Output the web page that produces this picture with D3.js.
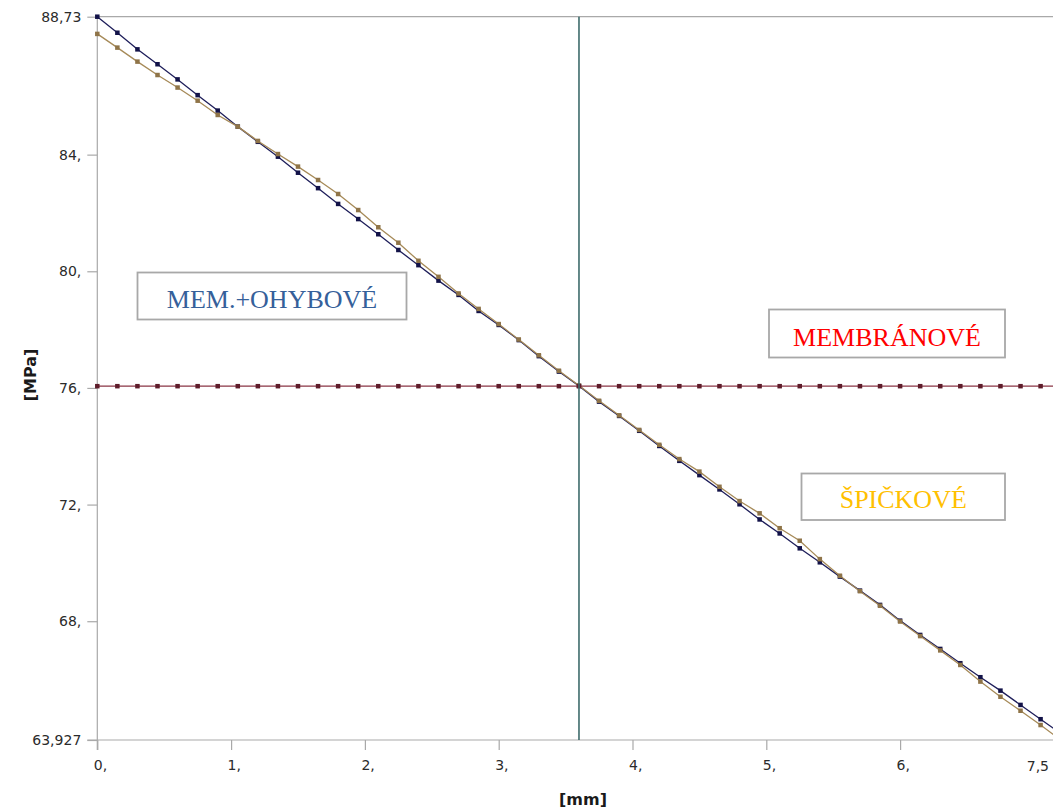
<!DOCTYPE html>
<html>
<head>
<meta charset="utf-8">
<script src="https://cdn.jsdelivr.net/npm/d3@7"></script>
<style>
  body { margin: 0; background: #fff; }
  svg { display: block; }
</style>
</head>
<body>
<script>
// path position [mm]
var xs = [0, 0.15, 0.3, 0.45, 0.6, 0.75, 0.9, 1.05, 1.2, 1.35,
          1.5, 1.65, 1.8, 1.95, 2.1, 2.25, 2.4, 2.55, 2.7, 2.85,
          3, 3.15, 3.3, 3.45, 3.6, 3.75, 3.9, 4.05, 4.2, 4.35,
          4.5, 4.65, 4.8, 4.95, 5.1, 5.25, 5.4, 5.55, 5.7, 5.85,
          6, 6.15, 6.3, 6.45, 6.6, 6.75, 6.9, 7.05, 7.2];

// membrane + bending [MPa]
var memBending = [88.73, 88.18, 87.61, 87.10, 86.58, 86.04, 85.51, 84.96, 84.44, 83.93,
                  83.38, 82.85, 82.31, 81.79, 81.27, 80.73, 80.21, 79.68, 79.19, 78.64,
                  78.16, 77.64, 77.09, 76.56, 76.07, 75.53, 75.04, 74.53, 74.01, 73.50,
                  73.01, 72.52, 72.01, 71.49, 71.01, 70.50, 70.02, 69.53, 69.05, 68.56,
                  68.02, 67.53, 67.05, 66.56, 66.08, 65.62, 65.13, 64.64, 64.15];

// peak [MPa]
var peak = [88.14, 87.67, 87.19, 86.73, 86.30, 85.85, 85.36, 84.96, 84.47, 84.02,
            83.59, 83.13, 82.65, 82.10, 81.51, 80.98, 80.36, 79.81, 79.24, 78.71,
            78.19, 77.66, 77.12, 76.59, 76.08, 75.56, 75.06, 74.56, 74.05, 73.56,
            73.13, 72.61, 72.12, 71.70, 71.19, 70.76, 70.13, 69.56, 69.03, 68.53,
            67.99, 67.49, 67.00, 66.50, 65.93, 65.41, 64.93, 64.44, 63.93];

// membrane [MPa]
var membrane = [76.06, 76.06, 76.06, 76.06, 76.06, 76.06, 76.06, 76.06, 76.06, 76.06,
                76.06, 76.06, 76.06, 76.06, 76.06, 76.06, 76.06, 76.06, 76.06, 76.06,
                76.06, 76.06, 76.06, 76.06, 76.06, 76.06, 76.06, 76.06, 76.06, 76.06,
                76.06, 76.06, 76.06, 76.06, 76.06, 76.06, 76.06, 76.06, 76.06, 76.06,
                76.06, 76.06, 76.06, 76.06, 76.06, 76.06, 76.06, 76.06, 76.06];

var cursorX = 3.6;

var xTicks = [0, 1, 2, 3, 4, 5, 6];
var xTickLabels = ["0,", "1,", "2,", "3,", "4,", "5,", "6,"];
var xEndLabel = "7,5";
var yTicks = [88.73, 84, 80, 76, 72, 68, 63.927];
var yTickLabels = ["88,73", "84,", "80,", "76,", "72,", "68,", "63,927"];

var width = 1053, height = 809;
var plot = {left: 97.3, top: 16.7, bottom: 740};
var tickFont = "'DejaVu Sans', Verdana, sans-serif";

var x = d3.scaleLinear()
    .domain([0, 7.5])
    .range([plot.left, plot.left + 7.5 * 133.8]);

var y = d3.scaleLinear()
    .domain([63.927, 88.73])
    .range([plot.bottom, plot.top]);

var svg = d3.select("body").append("svg")
    .attr("width", width)
    .attr("height", height)
    .style("font-family", tickFont);

var axisColor = "#a9a9a9";

// frame: left axis, top edge
svg.append("line")
    .attr("x1", plot.left).attr("x2", plot.left)
    .attr("y1", plot.top).attr("y2", plot.bottom + 10)
    .attr("stroke", axisColor).attr("stroke-width", 1.2);

svg.append("line")
    .attr("x1", plot.left).attr("x2", width)
    .attr("y1", plot.top).attr("y2", plot.top)
    .attr("stroke", axisColor).attr("stroke-width", 1.2);

// y axis
var yAxis = d3.axisLeft(y)
    .tickValues(yTicks)
    .tickSize(10)
    .tickPadding(6)
    .tickFormat(function(d, i) { return yTickLabels[i]; });

var gy = svg.append("g")
    .attr("transform", "translate(" + plot.left + ",0)")
    .call(yAxis);
gy.select(".domain").remove();
gy.selectAll(".tick line").attr("stroke", axisColor).attr("stroke-width", 1.2);
gy.selectAll(".tick text")
    .attr("fill", "#2b2b2b")
    .style("font-size", "14px")
    .style("font-family", tickFont);

// x axis
var xAxis = d3.axisBottom(x)
    .tickValues(xTicks)
    .tickSize(10)
    .tickPadding(10)
    .tickFormat(function(d, i) { return xTickLabels[i]; });

var gx = svg.append("g")
    .attr("transform", "translate(0," + plot.bottom + ")")
    .call(xAxis);
gx.select(".domain").remove();
gx.selectAll(".tick line").attr("stroke", axisColor).attr("stroke-width", 1.2);
gx.selectAll(".tick text")
    .attr("fill", "#2b2b2b")
    .attr("text-anchor", "start")
    .attr("x", -4)
    .style("font-size", "14px")
    .style("font-family", tickFont);

svg.append("line")
    .attr("x1", plot.left - 10).attr("x2", width)
    .attr("y1", plot.bottom).attr("y2", plot.bottom)
    .attr("stroke", axisColor).attr("stroke-width", 1.2);

svg.append("text")
    .attr("x", width - 4)
    .attr("y", plot.bottom + 31)
    .attr("text-anchor", "end")
    .attr("fill", "#2b2b2b")
    .style("font-size", "14px")
    .text(xEndLabel);

// axis titles
svg.append("text")
    .attr("transform", "translate(36,375) rotate(-90)")
    .attr("text-anchor", "middle")
    .attr("fill", "#1a1a1a")
    .style("font-size", "16px")
    .style("font-weight", "bold")
    .text("[MPa]");

svg.append("text")
    .attr("x", 583)
    .attr("y", 805)
    .attr("text-anchor", "middle")
    .attr("fill", "#1a1a1a")
    .style("font-size", "16px")
    .style("font-weight", "bold")
    .text("[mm]");

// series
var series = [
  {name: "memBending", values: memBending, line: "#1e1e5a", marker: "#121248"},
  {name: "peak", values: peak, line: "#a68a58", marker: "#8f7448"},
  {name: "membrane", values: membrane, line: "#8a3545", marker: "#5e1c2a"}
];

var line = d3.line()
    .x(function(d) { return x(d[0]); })
    .y(function(d) { return y(d[1]); });

series.forEach(function(s) {
  var pts = xs.map(function(v, i) { return [v, s.values[i]]; });

  svg.append("path")
      .datum(pts)
      .attr("fill", "none")
      .attr("stroke", s.line)
      .attr("stroke-width", 1.3)
      .attr("d", line);

  svg.append("g").selectAll("rect")
      .data(pts)
    .enter().append("rect")
      .attr("x", function(d) { return x(d[0]) - 2.25; })
      .attr("y", function(d) { return y(d[1]) - 2.25; })
      .attr("width", 4.5)
      .attr("height", 4.5)
      .attr("fill", s.marker);
});

// probe line at the crossing
svg.append("line")
    .attr("x1", x(cursorX)).attr("x2", x(cursorX))
    .attr("y1", plot.top).attr("y2", plot.bottom)
    .attr("stroke", "#3d6b6b")
    .attr("stroke-width", 1.6);

// annotation boxes
var notes = [
  {text: "MEM.+OHYBOVÉ", color: "#35609a", x: 137.5, y: 272.5, w: 269, h: 47},
  {text: "MEMBRÁNOVÉ", color: "#ff0000", x: 769, y: 309.5, w: 236, h: 48},
  {text: "ŠPIČKOVÉ", color: "#ffc000", x: 801.5, y: 473.5, w: 203.5, h: 46.5}
];

var note = svg.append("g").selectAll("g")
    .data(notes)
  .enter().append("g");

note.append("rect")
    .attr("x", function(d) { return d.x; })
    .attr("y", function(d) { return d.y; })
    .attr("width", function(d) { return d.w; })
    .attr("height", function(d) { return d.h; })
    .attr("fill", "#fff")
    .attr("stroke", "#a8a8a8")
    .attr("stroke-width", 1.8);

note.append("text")
    .attr("x", function(d) { return d.x + d.w / 2; })
    .attr("y", function(d) { return d.y + d.h - 12; })
    .attr("text-anchor", "middle")
    .attr("fill", function(d) { return d.color; })
    .style("font-family", "'Liberation Serif', 'Times New Roman', serif")
    .style("font-size", "26px")
    .text(function(d) { return d.text; });
</script>
</body>
</html>
